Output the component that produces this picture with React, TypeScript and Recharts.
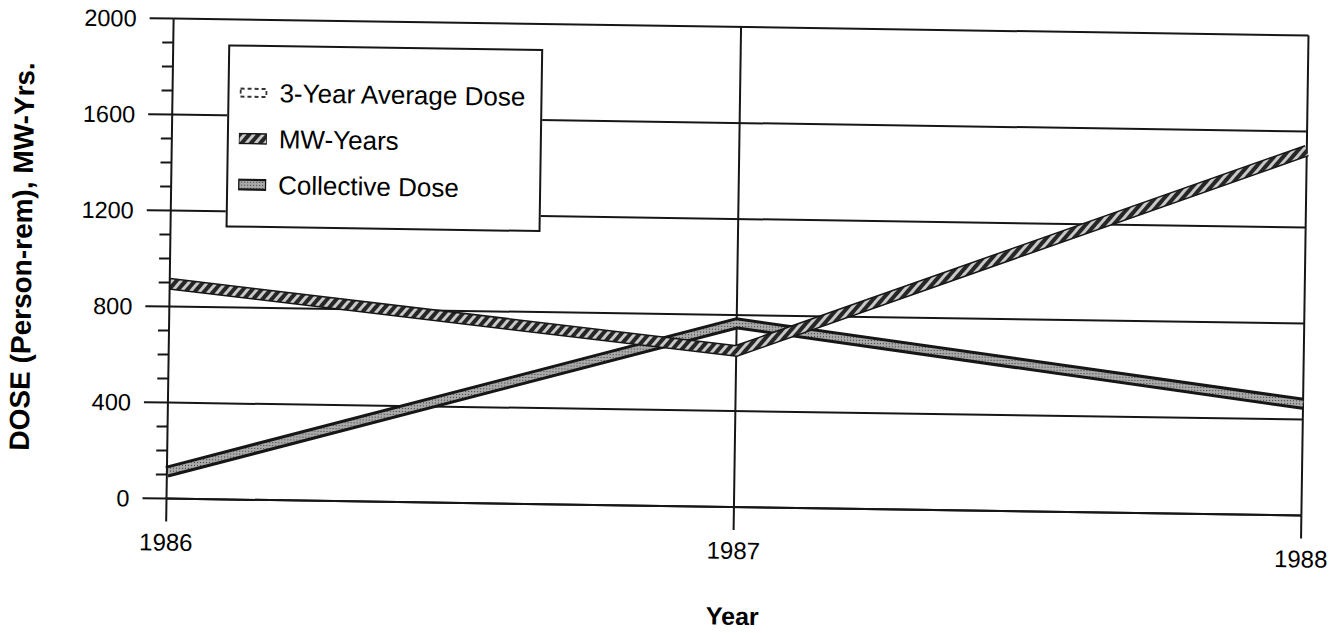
import React from 'react';
import { LineChart, Line, XAxis, YAxis, ReferenceLine, Label } from 'recharts';

// values
const years = ['1986', '1987', '1988'];
const mwYears = [895, 650, 1520];
const collectiveDose = [112, 765, 465];
const majorTicks = [0, 400, 800, 1200, 1600, 2000];
const allTicks = [0, 100, 200, 300, 400, 500, 600, 700, 800, 900, 1000, 1100, 1200, 1300, 1400, 1500, 1600, 1700, 1800, 1900, 2000];
const legendLabels = ['3-Year Average Dose', 'MW-Years', 'Collective Dose'];

const data = years.map((year, i) => ({ year, mw: mwYears[i], collective: collectiveDose[i] }));

const FONT = '"Liberation Sans", Arial, Helvetica, sans-serif';
const INK = '#161616';

const YTick = (props: any) => {
  const { x, y, payload } = props;
  const major = majorTicks.includes(payload.value);
  if (!major) {
    return <line x1={x - 11} x2={x} y1={y} y2={y} stroke={INK} strokeWidth={2} />;
  }
  return (
    <g>
      <line x1={x - 24} x2={x} y1={y} y2={y} stroke={INK} strokeWidth={2} />
      <text x={x - 37} y={y} dy="0.36em" textAnchor="end" fontSize={23.5} fontFamily={FONT} fill="#000">
        {payload.value}
      </text>
    </g>
  );
};

const YearLabel = (props: any) => {
  const { x, y, width } = props.viewBox;
  return (
    <text x={x + width / 2} y={y + 109} textAnchor="middle" dominantBaseline="central" fontSize={25} fontWeight="bold" fontFamily={FONT} fill="#000">
      Year
    </text>
  );
};

const DoseLabel = (props: any) => {
  const { x, y, height } = props.viewBox;
  const cx = x + 14;
  const cy = y + height / 2;
  return (
    <text x={cx} y={cy} transform={`rotate(-90, ${cx}, ${cy})`} textAnchor="middle" dominantBaseline="central" fontSize={28} fontWeight="bold" fontFamily={FONT} fill="#000">
      DOSE (Person-rem), MW-Yrs.
    </text>
  );
};

const LegendIcon: React.FC<{ index: number }> = ({ index }) => (
  <svg width={28} height={12} style={{ marginRight: 12, flexShrink: 0 }}>
    {index === 0 && (
      <rect x={1} y={2} width={26} height={8} fill="none" stroke="#333" strokeWidth={2} strokeDasharray="4 3" />
    )}
    {index === 1 && <rect x={0} y={1} width={28} height={10} fill="url(#ropeHatch)" stroke={INK} strokeWidth={1.5} />}
    {index === 2 && <rect x={0} y={1} width={28} height={10} fill="url(#speckle)" stroke={INK} strokeWidth={2.5} />}
  </svg>
);

export default function App() {
  return (
    <div style={{ position: 'relative', width: 1324, height: 617, transform: 'rotate(0.85deg)', transformOrigin: '729px 259px' }}>
      <LineChart width={1324} height={617} data={data} margin={{ top: 19, right: 27, bottom: 0, left: 0 }} style={{ overflow: 'visible' }}>
        <defs>
          <pattern id="ropeHatch" patternUnits="userSpaceOnUse" width={7} height={7} patternTransform="rotate(40)">
            <rect width={7} height={7} fill="#c8c8c8" />
            <rect width={4} height={7} fill="#262626" />
          </pattern>
          <pattern id="speckle" patternUnits="userSpaceOnUse" width={3} height={3}>
            <rect width={3} height={3} fill="#a9a9a9" />
            <rect width={1} height={1} fill="#3a3a3a" />
          </pattern>
        </defs>
        <XAxis
          dataKey="year"
          height={118}
          interval={0}
          tickSize={23}
          tickMargin={12}
          tick={{ fontSize: 24, fill: '#000', fontFamily: FONT }}
          axisLine={{ stroke: INK, strokeWidth: 2 }}
          tickLine={{ stroke: INK, strokeWidth: 2 }}
        >
          <Label content={<YearLabel />} />
        </XAxis>
        <YAxis
          width={162}
          domain={[0, 2000]}
          ticks={allTicks}
          interval={0}
          tickSize={0}
          tickMargin={0}
          tickLine={false}
          tick={<YTick />}
          axisLine={{ stroke: INK, strokeWidth: 2 }}
        >
          <Label content={<DoseLabel />} />
        </YAxis>
        {majorTicks.map((v) => (
          <ReferenceLine key={v} y={v} stroke={INK} strokeWidth={2} ifOverflow="visible" />
        ))}
        <ReferenceLine x="1987" stroke={INK} strokeWidth={2} />
        <ReferenceLine x="1988" stroke={INK} strokeWidth={2} />

        <Line dataKey="collective" stroke={INK} strokeWidth={12} dot={false} activeDot={false} isAnimationActive={false} />
        <Line dataKey="collective" stroke="url(#speckle)" strokeWidth={6} dot={false} activeDot={false} isAnimationActive={false} />
        <Line dataKey="mw" stroke={INK} strokeWidth={12} dot={false} activeDot={false} isAnimationActive={false} />
        <Line dataKey="mw" stroke="url(#ropeHatch)" strokeWidth={9} dot={false} activeDot={false} isAnimationActive={false} />
      </LineChart>

      <div
        style={{
          position: 'absolute',
          left: 217,
          top: 44,
          width: 315,
          height: 183,
          boxSizing: 'border-box',
          border: `2.5px solid ${INK}`,
          background: '#fff',
          paddingTop: 23,
          paddingLeft: 10,
          fontFamily: FONT,
          fontSize: 26,
          color: '#000',
        }}
      >
        {legendLabels.map((label, i) => (
          <div key={label} style={{ display: 'flex', alignItems: 'center', height: 46 }}>
            <LegendIcon index={i} />
            <span>{label}</span>
          </div>
        ))}
      </div>
    </div>
  );
}
